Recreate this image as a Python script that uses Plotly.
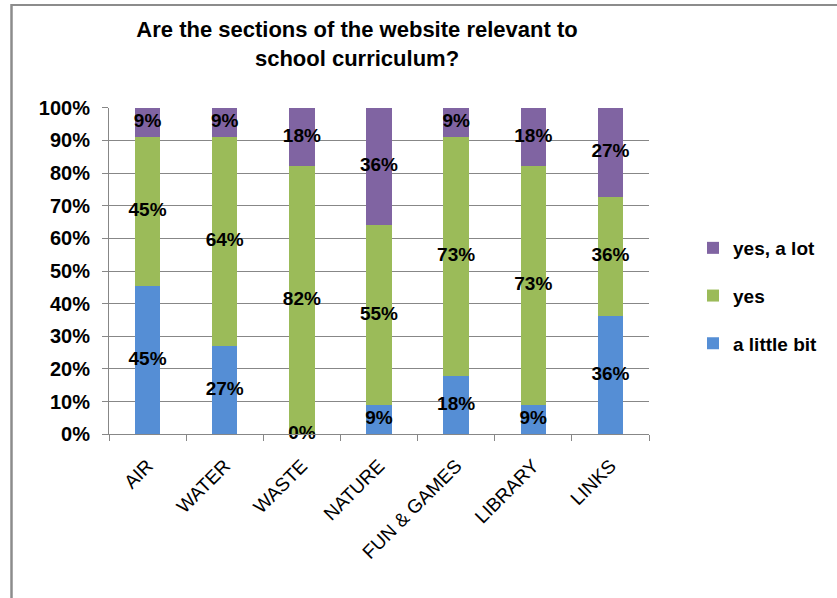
import plotly.graph_objects as go

# Survey responses per website section (shares in percent)
categories = ["AIR", "WATER", "WASTE", "NATURE", "FUN & GAMES", "LIBRARY", "LINKS"]
a_little_bit = [45, 27, 0, 9, 18, 9, 36]
yes = [45, 64, 82, 55, 73, 73, 36]
yes_a_lot = [9, 9, 18, 36, 9, 18, 27]

# (name, values, colour, legend rank)
series = [
    ("a little bit", a_little_bit, "#558ED5", 3),
    ("yes", yes, "#9BBB59", 2),
    ("yes, a lot", yes_a_lot, "#8064A2", 1),
]

W, H = 837, 598
FONT = "Liberation Sans, Arial, sans-serif"
GRID = "#878787"

# plot-area edges in pixels
left, right, top, bottom = 109, 649, 107.7, 434.3

fig = go.Figure()

totals = [sum(s[1][i] for s in series) for i in range(len(categories))]
base = [0.0] * len(categories)
for name, vals, color, rank in series:
    fig.add_trace(go.Bar(
        x=categories, y=vals, name=name,
        marker=dict(color=color, line=dict(width=0)),
        legendgroup=name, legendrank=rank,
    ))
    # centred data labels within each stacked segment
    mids = []
    for i, v in enumerate(vals):
        share = v / totals[i] * 100
        mids.append(base[i] + share / 2)
        base[i] += share
    fig.add_trace(go.Scatter(
        x=categories, y=mids, mode="text",
        text=[f"{v}%" for v in vals],
        textfont=dict(family=FONT, size=19, color="black", weight="bold"),
        showlegend=False, hoverinfo="skip", cliponaxis=False,
    ))

fig.update_layout(
    width=W, height=H,
    margin=dict(l=0, r=0, t=0, b=0, autoexpand=False),
    paper_bgcolor="white", plot_bgcolor="white",
    barmode="stack", barnorm="percent", bargap=0.67,
    font=dict(family=FONT, color="black"),
    title=dict(
        text="Are the sections of the website relevant to<br>school curriculum?",
        x=357 / W, xanchor="center",
        y=1 - 37 / H, yanchor="middle",
        font=dict(family=FONT, size=22, color="black", weight="bold"),
    ),
    xaxis=dict(
        domain=[left / W, right / W],
        type="category", automargin=False,
        showline=True, linecolor=GRID, linewidth=1,
        ticks="outside", tickson="boundaries", ticklen=6, tickcolor=GRID,
        tickangle=-45, ticklabelstandoff=12,
        tickfont=dict(family=FONT, size=19, color="black"),
        showgrid=False,
    ),
    yaxis=dict(
        domain=[1 - bottom / H, 1 - top / H],
        range=[0, 100], dtick=10, ticksuffix="%", automargin=False,
        showline=True, linecolor=GRID, linewidth=1,
        ticks="outside", ticklen=6, tickcolor=GRID,
        ticklabelstandoff=8,
        tickfont=dict(family=FONT, size=20, color="black", weight="bold"),
        showgrid=True, gridcolor=GRID, gridwidth=1,
        zeroline=False,
    ),
    legend=dict(
        x=693 / W, y=1 - 229 / H, xanchor="left", yanchor="top",
        traceorder="grouped", tracegroupgap=20,
        font=dict(family=FONT, size=19, color="black", weight="bold"),
        bgcolor="rgba(0,0,0,0)",
    ),
    shapes=[
        dict(type="line", xref="paper", yref="paper",
             x0=11 / W, x1=1, y0=1 - 5 / H, y1=1 - 5 / H,
             line=dict(color="#8C8C8C", width=2)),
        dict(type="line", xref="paper", yref="paper",
             x0=11.5 / W, x1=11.5 / W, y0=0, y1=1 - 4 / H,
             line=dict(color="#8C8C8C", width=2.5)),
    ],
)

fig.write_html("out.html")
